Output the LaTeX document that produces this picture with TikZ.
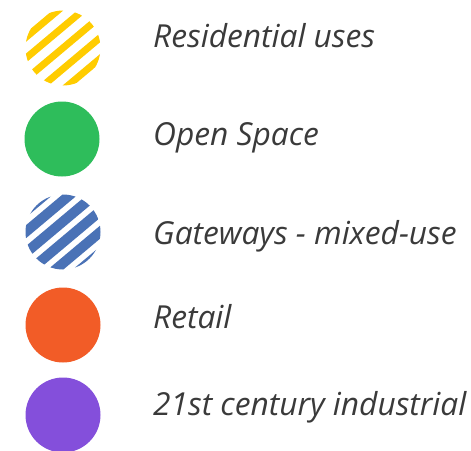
\documentclass[tikz,border=0pt]{standalone}
\usepackage{fontspec}
\setmainfont{Open Sans}
\definecolor{resyellow}{HTML}{FFCC00}
\definecolor{opengreen}{HTML}{2EBD5B}
\definecolor{gateblue}{HTML}{4A72B6}
\definecolor{retailorange}{HTML}{F25C27}
\definecolor{induspurple}{HTML}{844FDB}
\definecolor{labelgray}{HTML}{3A3A3A}
\tikzset{
  swatch/.style={circle, minimum size=75pt, inner sep=0pt, draw=none},
  legendtext/.style={anchor=base west, inner sep=0pt, text=labelgray,
    font=\fontsize{31.7}{38}\selectfont\itshape},
}
\begin{document}
\begin{tikzpicture}[x=1pt,y=-1pt]
  \useasboundingbox (0,0) rectangle (471,450);

  % striped swatches
  \node[swatch, path picture={
      \foreach \o in {-32,-16,...,32}
        \draw[resyellow, line width=7pt]
          ([shift={(0.643*\o-38.3,0.766*\o+32.1)}]path picture bounding box.center)
          -- ++(76.6,-64.3);}] (res) at (63,48) {};
  \node[swatch, fill=opengreen] (open) at (62,139) {};
  \node[swatch, path picture={
      \foreach \o in {-40,-24,...,40}
        \draw[gateblue, line width=10pt]
          ([shift={(0.643*\o-38.3,0.766*\o+32.1)}]path picture bounding box.center)
          -- ++(76.6,-64.3);}] (gate) at (63,232) {};
  \node[swatch, fill=retailorange] (retail) at (63,325) {};
  \node[swatch, fill=induspurple] (indus) at (63,415) {};

  % labels
  \node[legendtext] (reslbl) at (153,47) {Residential uses};
  \node[legendtext] (openlbl) at (153,145) {Open Space};
  \node[legendtext] (gatelbl) at (153,244) {Gateways - mixed-use};
  \node[legendtext] (retaillbl) at (153,328) {Retail};
  \node[legendtext] (induslbl) at (153,415) {21st century industrial};
\end{tikzpicture}
\end{document}
